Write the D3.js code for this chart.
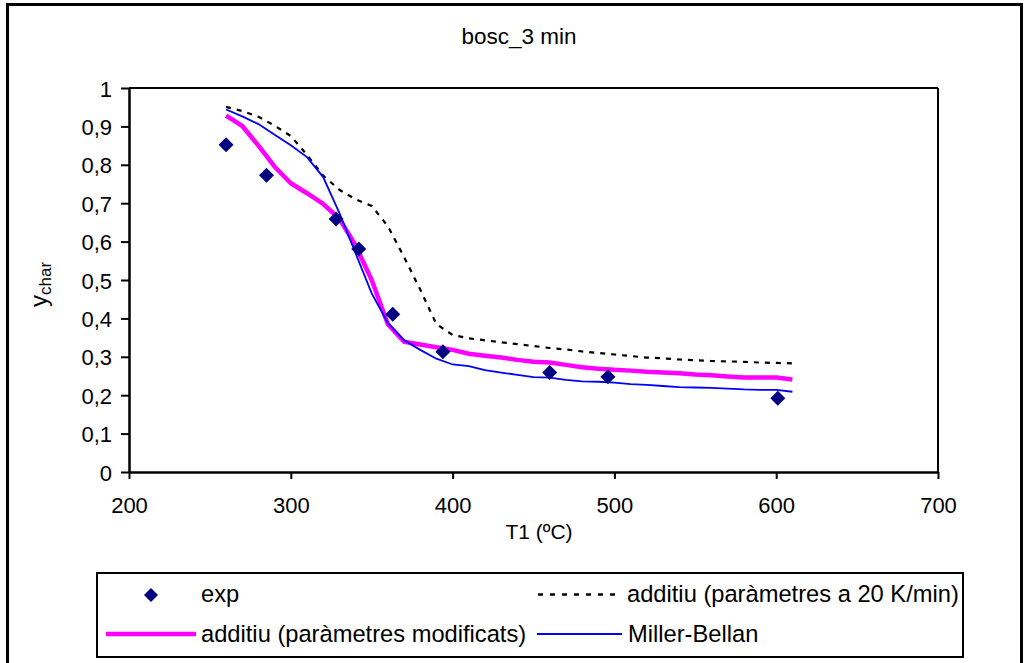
<!DOCTYPE html>
<html>
<head>
<meta charset="utf-8">
<script src="https://cdn.jsdelivr.net/npm/d3@7"></script>
<style>
html,body{margin:0;padding:0;background:#fff;}
svg{display:block;font-family:"Liberation Sans",Arial,sans-serif;}
</style>
</head>
<body>
<svg id="chart" width="1025" height="663"></svg>
<script>
const title = "bosc_3 min";
const xTicks = [200,300,400,500,600,700];
const yTicks = [0,0.1,0.2,0.3,0.4,0.5,0.6,0.7,0.8,0.9,1];
const yTickLabels = ["0","0,1","0,2","0,3","0,4","0,5","0,6","0,7","0,8","0,9","1"];

const expT = [260,285,328,342,363,394,460,496,601];
const expY = [0.852,0.773,0.659,0.581,0.411,0.313,0.259,0.248,0.192];

const modelT = [260,270,280,290,300,310,320,330,340,350,360,370,380,390,400,410,420,430,440,450,460,470,480,490,500,510,520,530,540,550,560,570,580,590,600,610];
const additiu20 = [0.951,0.94,0.925,0.902,0.875,0.826,0.772,0.735,0.71,0.693,0.64,0.56,0.475,0.385,0.357,0.348,0.343,0.338,0.333,0.328,0.323,0.319,0.314,0.31,0.306,0.302,0.298,0.296,0.293,0.291,0.289,0.288,0.287,0.285,0.284,0.283];
const additiuMod = [0.928,0.901,0.85,0.795,0.752,0.726,0.698,0.66,0.59,0.5,0.385,0.339,0.332,0.325,0.318,0.308,0.303,0.298,0.292,0.287,0.285,0.279,0.273,0.269,0.266,0.264,0.261,0.259,0.257,0.254,0.252,0.249,0.246,0.246,0.246,0.241];
const millerBellan = [0.944,0.926,0.906,0.878,0.851,0.82,0.768,0.675,0.57,0.465,0.388,0.343,0.318,0.295,0.28,0.276,0.265,0.259,0.253,0.247,0.246,0.24,0.236,0.235,0.233,0.229,0.227,0.224,0.221,0.22,0.219,0.217,0.215,0.214,0.214,0.209];

const legendLabels = ["exp","additiu (paràmetres a 20 K/min)","additiu (paràmetres modificats)","Miller-Bellan"];

const svg = d3.select("#chart");
const x = d3.scaleLinear().domain([200,700]).range([129,938]);
const y = d3.scaleLinear().domain([0,1]).range([472,88]);

// outer border
svg.append("rect").attr("x",7.5).attr("y",4.5).attr("width",1014).attr("height",700)
  .attr("fill","#fff").attr("stroke","#000").attr("stroke-width",3);

// title
svg.append("text").attr("x",519).attr("y",44).attr("text-anchor","middle")
  .attr("font-size",22.5).text(title);

// plot frame top/right
svg.append("line").attr("x1",x(200)).attr("x2",x(700)).attr("y1",y(1)).attr("y2",y(1)).attr("stroke","#000").attr("stroke-width",2);
svg.append("line").attr("x1",x(700)).attr("x2",x(700)).attr("y1",y(1)).attr("y2",y(0)).attr("stroke","#000").attr("stroke-width",2);

// axes
const xAxis = d3.axisBottom(x).tickValues(xTicks).tickSize(7).tickSizeOuter(0).tickFormat(d3.format("d"));
const gx = svg.append("g").attr("transform",`translate(0,${y(0)})`).call(xAxis);
gx.select(".domain").attr("stroke-width",2.5);
gx.selectAll(".tick line").attr("stroke-width",2);
gx.selectAll(".tick text").attr("font-size",22).attr("font-family","Liberation Sans, Arial, sans-serif").attr("fill","#000").attr("y",null).attr("dy",null).attr("transform","translate(0,41)");

const yAxis = d3.axisLeft(y).tickValues(yTicks).tickSize(8).tickSizeOuter(0).tickFormat((d,i)=>yTickLabels[i]);
const gy = svg.append("g").attr("transform",`translate(${x(200)},0)`).call(yAxis);
gy.select(".domain").attr("stroke-width",2.5);
gy.selectAll(".tick line").attr("stroke-width",2);
gy.selectAll(".tick text").attr("font-size",22).attr("font-family","Liberation Sans, Arial, sans-serif").attr("fill","#000").attr("x",-17).attr("dy",null).attr("y",8);

// axis titles
svg.append("text").attr("x",539).attr("y",539).attr("text-anchor","middle").attr("font-size",21).text("T1 (ºC)");
const yt = svg.append("text").attr("transform","translate(47,307) rotate(-90)").attr("font-size",24);
yt.append("tspan").text("y");
yt.append("tspan").attr("font-size",17).attr("dy",4).text("char");

// lines
const line = d3.line().x(d=>x(d[0])).y(d=>y(d[1]));
const g = svg.append("g");
g.append("path").datum(modelT.map((t,i)=>[t,additiu20[i]])).attr("d",line)
  .attr("fill","none").attr("stroke","#000").attr("stroke-width",2.2).attr("stroke-dasharray","5,6");
g.append("path").datum(modelT.map((t,i)=>[t,additiuMod[i]])).attr("d",line)
  .attr("fill","none").attr("stroke","#FF00FF").attr("stroke-width",4.5).attr("stroke-linejoin","round");
g.append("path").datum(modelT.map((t,i)=>[t,millerBellan[i]])).attr("d",line)
  .attr("fill","none").attr("stroke","#0000FF").attr("stroke-width",1.8);

const diamond = (cx,cy,r)=>`M${cx},${cy-r}L${cx+r},${cy}L${cx},${cy+r}L${cx-r},${cy}Z`;
g.selectAll("path.exp").data(expT.map((t,i)=>[t,expY[i]])).enter().append("path")
  .attr("class","exp").attr("d",d=>diamond(x(d[0]),y(d[1]),7.5)).attr("fill","#000080");

// legend
const lg = svg.append("g");
lg.append("rect").attr("x",97).attr("y",573).attr("width",866).attr("height",84)
  .attr("fill","#fff").attr("stroke","#000").attr("stroke-width",2);
lg.append("path").attr("d",diamond(151,595,7)).attr("fill","#000080");
lg.append("text").attr("x",201).attr("y",602).attr("font-size",23.7).text(legendLabels[0]);
lg.append("line").attr("x1",538).attr("x2",621).attr("y1",594.5).attr("y2",594.5)
  .attr("stroke","#000").attr("stroke-width",2.5).attr("stroke-dasharray","5,7");
lg.append("text").attr("x",627).attr("y",602).attr("font-size",23.7).text(legendLabels[1]);
lg.append("line").attr("x1",106).attr("x2",196).attr("y1",634).attr("y2",634)
  .attr("stroke","#FF00FF").attr("stroke-width",4.5);
lg.append("text").attr("x",201).attr("y",642).attr("font-size",23.7).text(legendLabels[2]);
lg.append("line").attr("x1",537).attr("x2",622).attr("y1",634).attr("y2",634)
  .attr("stroke","#0000FF").attr("stroke-width",1.8);
lg.append("text").attr("x",628).attr("y",642).attr("font-size",23.7).text(legendLabels[3]);
</script>
</body>
</html>
